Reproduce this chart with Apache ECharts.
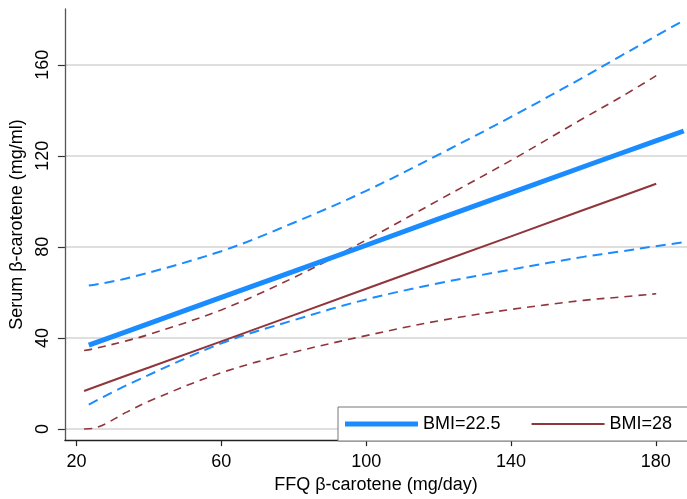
<!DOCTYPE html>
<html>
<head>
<meta charset="utf-8">
<script src="https://cdn.jsdelivr.net/npm/echarts@6/dist/echarts.min.js"></script>
<style>html,body{margin:0;padding:0;background:#fff}#c{width:687px;height:499px}</style>
</head>
<body>
<div id="c"></div>
<script>
// ---- data ----
const xTicks = [20, 60, 100, 140, 180];
const yTicks = [0, 40, 80, 120, 160];

const blueX     = [23.4, 34, 60, 80, 100, 120, 140, 160, 170, 180, 187.7];
const blueFit   = [36.8, 42.9, 57.8, 69.2, 80.7, 92.3, 103.7, 115.2, 120.9, 126.6, 130.9];
const blueUpper = [63.0, 66.2, 78.1, 90.6, 104.6, 120.5, 137.1, 154.5, 163.6, 172.6, 179.5];
const blueLower = [10.7, 19.3, 37.6, 47.8, 56.9, 64.0, 70.0, 75.6, 77.9, 80.3, 82.0];

const redX     = [22.1, 24.7, 34, 40, 60, 80, 100, 120, 140, 160, 170, 180.1];
const redFit   = [16.7, 18.2, 23.6, 27.0, 38.5, 50.0, 61.6, 73.1, 84.6, 96.2, 101.9, 107.7];
const redUpper = [34.5, 35.2, 38.8, 41.5, 52.3, 66.5, 83.0, 100.5, 118.0, 136.5, 145.5, 155.2];
const redLower = [0.0, 0.3, 7.5, 12.2, 24.7, 33.7, 41.0, 47.5, 52.5, 56.5, 57.9, 59.4];

const seriesNames = ['BMI=22.5', 'BMI=28'];
// --------------------------------------

const BLUE = '#1a8cff';
const RED = '#90353b';
const pairs = (xs, ys) => xs.map((x, i) => [x, ys[i]]);

const chart = echarts.init(document.getElementById('c'), null, {renderer: 'canvas'});
const font = 'Liberation Sans, Arial, sans-serif';

const dashed = (name, xs, ys, color, width, dash) => ({
  name, type: 'line', data: pairs(xs, ys), smooth: 0.35, symbol: 'none',
  lineStyle: {color, width, type: dash}, silent: true
});

chart.setOption({
  animation: false,
  backgroundColor: '#fff',
  grid: {left: 57.7, top: 9, right: 0, bottom: 52, containLabel: false},
  xAxis: {
    type: 'value', min: 16.8, max: 188.6,
    name: 'FFQ β-carotene (mg/day)', nameLocation: 'middle', nameGap: 24,
    nameTextStyle: {fontFamily: font, fontSize: 18, color: '#000'},
    axisLine: {show: true, onZero: false, lineStyle: {color: '#222', width: 1.3}},
    axisTick: {show: true, length: 6, customValues: xTicks, lineStyle: {color: '#222', width: 1.2}},
    axisLabel: {customValues: xTicks, margin: 13, fontFamily: font, fontSize: 18, color: '#000'},
    splitLine: {show: false}
  },
  yAxis: {
    type: 'value', min: -4.9, max: 184.5,
    name: 'Serum β-carotene (mg/ml)', nameLocation: 'middle', nameGap: 31, nameRotate: 90,
    nameTextStyle: {fontFamily: font, fontSize: 18, color: '#000'},
    axisLine: {show: true, onZero: false, lineStyle: {color: '#555', width: 1.3}},
    axisTick: {show: true, length: 7, customValues: yTicks, lineStyle: {color: '#333', width: 1.2}},
    axisLabel: {customValues: yTicks, rotate: 90, margin: 13, fontFamily: font, fontSize: 18, color: '#000'},
    splitLine: {show: true, lineStyle: {color: '#d4d4d4', width: 1.5}}
  },
  legend: {
    left: 338, top: 407, width: 380,
    orient: 'horizontal',
    padding: [8, 20, 8, 7],
    itemWidth: 73, itemHeight: 14, itemGap: 31,
    borderColor: '#777', borderWidth: 1, backgroundColor: '#fff',
    textStyle: {fontFamily: font, fontSize: 18, color: '#000'},
    selectedMode: false,
    data: [
      {name: seriesNames[0], icon: 'path://M0,0H73V5H0Z', itemStyle: {color: BLUE}},
      {name: seriesNames[1], icon: 'path://M0,0H70V2H0Z', itemStyle: {color: RED}}
    ]
  },
  series: [
    dashed('blueUpper', blueX, blueUpper, BLUE, 2, [10, 6]),
    dashed('blueLower', blueX, blueLower, BLUE, 2, [10, 6]),
    dashed('redUpper', redX, redUpper, RED, 1.6, [8, 6]),
    dashed('redLower', redX, redLower, RED, 1.6, [8, 6]),
    {name: seriesNames[1], type: 'line', data: pairs(redX, redFit), symbol: 'none', color: RED,
     lineStyle: {color: RED, width: 2}},
    {name: seriesNames[0], type: 'line', data: pairs(blueX, blueFit), symbol: 'none', color: BLUE,
     lineStyle: {color: BLUE, width: 5}}
  ]
});
</script>
</body>
</html>
